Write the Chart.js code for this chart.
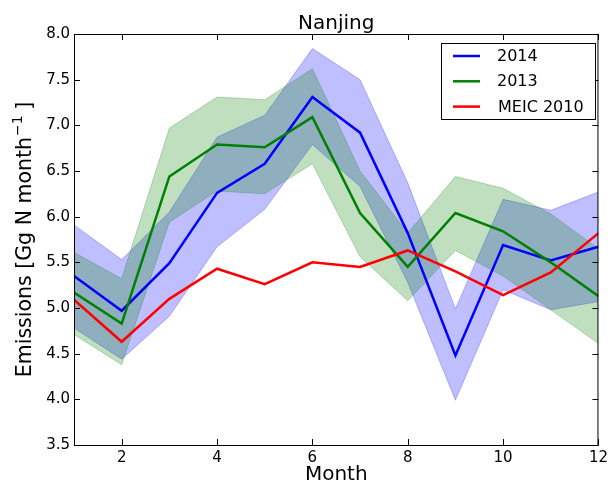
<!DOCTYPE html>
<html>
<head>
<meta charset="utf-8">
<script src="https://cdn.jsdelivr.net/npm/chart.js@4.4.1/dist/chart.umd.min.js"></script>
<style>
  html, body { margin: 0; padding: 0; background: #fff; }
  #wrap { width: 612px; height: 485px; }
</style>
</head>
<body>
<div id="wrap"><canvas id="nanjing"></canvas></div>
<script>
// data
var months = [1, 2, 3, 4, 5, 6, 7, 8, 9, 10, 11, 12];
var e2014 = [5.35, 4.97, 5.49, 6.26, 6.58, 7.31, 6.92, 5.82, 4.48, 5.69, 5.52, 5.67];
var hi2014 = [5.91, 5.53, 6.05, 6.87, 7.11, 7.84, 7.50, 6.37, 4.99, 6.19, 6.07, 6.27];
var lo2014 = [4.78, 4.44, 4.91, 5.67, 6.08, 6.79, 6.33, 5.28, 3.99, 5.20, 4.98, 5.07];
var e2013 = [5.17, 4.83, 6.44, 6.79, 6.76, 7.09, 6.04, 5.45, 6.04, 5.84, 5.50, 5.13];
var hi2013 = [5.61, 5.32, 6.97, 7.31, 7.28, 7.62, 6.50, 5.82, 6.44, 6.31, 6.03, 5.65];
var lo2013 = [4.71, 4.38, 5.94, 6.28, 6.25, 6.58, 5.56, 5.08, 5.63, 5.35, 4.98, 4.61];
var meic2010 = [5.09, 4.63, 5.10, 5.43, 5.26, 5.50, 5.45, 5.63, 5.40, 5.14, 5.39, 5.82];

var xTicks = [2, 4, 6, 8, 10, 12];
var yTicks = [3.5, 4.0, 4.5, 5.0, 5.5, 6.0, 6.5, 7.0, 7.5, 8.0];
var legendNames = ['2014', '2013', 'MEIC 2010'];
var legendColors = ['#0000ff', '#008000', '#ff0000'];

function pts(arr) {
  return months.map(function (m, i) { return {x: m, y: arr[i]}; });
}

var FONT = "'DejaVu Sans', sans-serif";

function line(label, arr, color, order) {
  return {
    label: label, data: pts(arr), borderColor: color, borderWidth: 2.5,
    pointRadius: 0, fill: false, tension: 0, order: order
  };
}
function bandEdge(arr, color, order, fillTo) {
  return {
    label: '', data: pts(arr), borderColor: color, borderWidth: 1,
    backgroundColor: color, pointRadius: 0, tension: 0, order: order,
    fill: fillTo === undefined ? false : {target: fillTo}
  };
}

var blueBand = 'rgba(0,0,255,0.25)';
var greenBand = 'rgba(0,128,0,0.25)';

var datasets = [
  line('2014', e2014, '#0000ff', 2),          // 0
  line('2013', e2013, '#008000', 1),          // 1
  line('MEIC 2010', meic2010, '#ff0000', 0),  // 2
  bandEdge(hi2014, blueBand, 5, 4),           // 3
  bandEdge(lo2014, blueBand, 5),              // 4
  bandEdge(hi2013, greenBand, 4, 6),          // 5
  bandEdge(lo2013, greenBand, 4)              // 6
];

// frame, inward ticks, titles and legend box
var decor = {
  id: 'decor',
  afterDraw: function (chart) {
    var ctx = chart.ctx, a = chart.chartArea;
    var xs = chart.scales.x, ys = chart.scales.y;
    ctx.save();
    ctx.strokeStyle = '#000';
    ctx.lineWidth = 1;
    ctx.strokeRect(a.left + 0.5, a.top + 0.5, a.right - a.left - 1, a.bottom - a.top);
    ctx.beginPath();
    xTicks.forEach(function (v) {
      var px = Math.round(xs.getPixelForValue(v)) + 0.5;
      ctx.moveTo(px, a.bottom); ctx.lineTo(px, a.bottom - 6);
      ctx.moveTo(px, a.top); ctx.lineTo(px, a.top + 6);
    });
    yTicks.forEach(function (v) {
      var py = Math.round(ys.getPixelForValue(v)) + 0.5;
      ctx.moveTo(a.left, py); ctx.lineTo(a.left + 6, py);
      ctx.moveTo(a.right, py); ctx.lineTo(a.right - 6, py);
    });
    ctx.stroke();

    // title
    ctx.fillStyle = '#000';
    ctx.font = '20px ' + FONT;
    ctx.textAlign = 'center';
    ctx.textBaseline = 'alphabetic';
    ctx.fillText('Nanjing', (a.left + a.right) / 2, 28.5);

    // y axis title with a small raised exponent
    var p1 = 'Emissions [Gg N month', sup = '\u22121', p2 = ' ]';
    ctx.save();
    ctx.translate(0, (a.top + a.bottom) / 2);
    ctx.rotate(-Math.PI / 2);
    ctx.textAlign = 'left';
    ctx.font = '20.5px ' + FONT;
    var w1 = ctx.measureText(p1).width, w3 = ctx.measureText(p2).width;
    ctx.font = '14px ' + FONT;
    var w2 = ctx.measureText(sup).width;
    var x0 = -(w1 + w2 + w3) / 2;
    ctx.font = '20.5px ' + FONT;
    ctx.fillText(p1, x0, 30.5);
    ctx.fillText(p2, x0 + w1 + w2, 30.5);
    ctx.font = '14px ' + FONT;
    ctx.fillText(sup, x0 + w1 + 1, 22);
    ctx.restore();

    // legend
    var bx = 441, by = 43, bw = 154, bh = 76;
    ctx.fillStyle = '#fff';
    ctx.fillRect(bx, by, bw, bh);
    ctx.strokeStyle = '#000';
    ctx.strokeRect(bx + 0.5, by + 0.5, bw, bh);
    ctx.font = '16px ' + FONT;
    ctx.textAlign = 'left';
    ctx.textBaseline = 'middle';
    legendNames.forEach(function (name, i) {
      var y = 56 + i * 25.3;
      ctx.strokeStyle = legendColors[i];
      ctx.lineWidth = 2.5;
      ctx.beginPath();
      ctx.moveTo(453, y); ctx.lineTo(480, y);
      ctx.stroke();
      ctx.fillStyle = '#000';
      ctx.fillText(name, i === 2 ? 498 : 497, y + 1);
    });
    ctx.restore();
  }
};

var config = {
  type: 'line',
  data: {datasets: datasets},
  options: {
    responsive: true,
    maintainAspectRatio: false,
    animation: false,
    events: [],
    layout: {padding: {top: 34, right: 9, left: 0, bottom: 0}},
    plugins: {legend: {display: false}, tooltip: {enabled: false}, title: {display: false}},
    scales: {
      x: {
        type: 'linear', min: 1, max: 12,
        grid: {display: false, drawTicks: false},
        border: {display: false},
        afterBuildTicks: function (s) { s.ticks = xTicks.map(function (v) { return {value: v}; }); },
        afterFit: function (s) { s.height = 40; },
        ticks: {color: '#000', font: {family: FONT, size: 15}, padding: 4, maxRotation: 0, autoSkip: false},
        title: {display: true, text: 'Month', color: '#000', font: {family: FONT, size: 20, lineHeight: 1}, padding: 0}
      },
      y: {
        type: 'linear', min: 3.5, max: 8.0,
        grid: {display: false, drawTicks: false},
        border: {display: false},
        afterBuildTicks: function (s) { s.ticks = yTicks.map(function (v) { return {value: v}; }); },
        afterFit: function (s) { s.width = 74; },
        ticks: {
          color: '#000', font: {family: FONT, size: 15}, padding: 4, autoSkip: false,
          callback: function (v) { return Number(v).toFixed(1); }
        },
        title: {display: false}
      }
    }
  },
  plugins: [decor]
};

var myChart = new Chart(document.getElementById('nanjing'), config);
</script>
</body>
</html>
